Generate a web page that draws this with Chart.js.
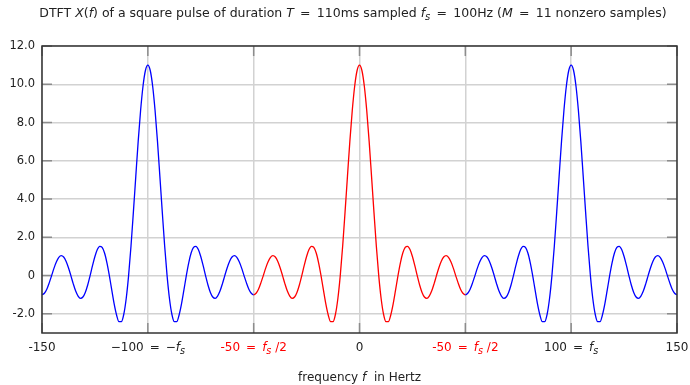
<!DOCTYPE html>
<html>
<head>
<meta charset="utf-8">
<script src="https://cdn.jsdelivr.net/npm/chart.js@4.4.1/dist/chart.umd.min.js"></script>
<style>
  html, body { margin: 0; padding: 0; background: #fff; }
</style>
</head>
<body>
<canvas id="dtft" width="690" height="385"></canvas>
<script>
// frequency samples (Hz) and DTFT amplitude
const freqHz = [
  -150, -148.86, -147.73, -146.59, -145.45, -144.32, -143.18, -142.05, -140.91, -139.77, -138.64, -137.5,
  -136.36, -135.23, -134.09, -132.95, -131.82, -130.68, -129.55, -128.41, -127.27, -126.14, -125, -123.86,
  -122.73, -121.59, -120.45, -119.32, -118.18, -117.05, -115.91, -114.77, -113.64, -112.5, -111.36, -110.23,
  -109.09, -107.95, -106.82, -105.68, -104.55, -103.41, -102.27, -101.14, -100,
  -98.86, -97.73, -96.59, -95.45, -94.32, -93.18, -92.05, -90.91, -89.77, -88.64, -87.5, -86.36, -85.23,
  -84.09, -82.95, -81.82, -80.68, -79.55, -78.41, -77.27, -76.14, -75, -73.86, -72.73, -71.59, -70.45,
  -69.32, -68.18, -67.05, -65.91, -64.77, -63.64, -62.5, -61.36, -60.23, -59.09, -57.95, -56.82, -55.68,
  -54.55, -53.41, -52.27, -51.14, -50,
  -48.86, -47.73, -46.59, -45.45, -44.32, -43.18, -42.05, -40.91, -39.77, -38.64, -37.5, -36.36, -35.23,
  -34.09, -32.95, -31.82, -30.68, -29.55, -28.41, -27.27, -26.14, -25, -23.86, -22.73, -21.59, -20.45,
  -19.32, -18.18, -17.05, -15.91, -14.77, -13.64, -12.5, -11.36, -10.23, -9.09, -7.95, -6.82, -5.68,
  -4.55, -3.41, -2.27, -1.14, 0,
  1.14, 2.27, 3.41, 4.55, 5.68, 6.82, 7.95, 9.09, 10.23, 11.36, 12.5, 13.64, 14.77, 15.91, 17.05, 18.18,
  19.32, 20.45, 21.59, 22.73, 23.86, 25, 26.14, 27.27, 28.41, 29.55, 30.68, 31.82, 32.95, 34.09, 35.23,
  36.36, 37.5, 38.64, 39.77, 40.91, 42.05, 43.18, 44.32, 45.45, 46.59, 47.73, 48.86, 50,
  51.14, 52.27, 53.41, 54.55, 55.68, 56.82, 57.95, 59.09, 60.23, 61.36, 62.5, 63.64, 64.77, 65.91, 67.05,
  68.18, 69.32, 70.45, 71.59, 72.73, 73.86, 75, 76.14, 77.27, 78.41, 79.55, 80.68, 81.82, 82.95, 84.09,
  85.23, 86.36, 87.5, 88.64, 89.77, 90.91, 92.05, 93.18, 94.32, 95.45, 96.59, 97.73, 98.86, 100,
  101.14, 102.27, 103.41, 104.55, 105.68, 106.82, 107.95, 109.09, 110.23, 111.36, 112.5, 113.64, 114.77,
  115.91, 117.05, 118.18, 119.32, 120.45, 121.59, 122.73, 123.86, 125, 126.14, 127.27, 128.41, 129.55,
  130.68, 131.82, 132.95, 134.09, 135.23, 136.36, 137.5, 138.64, 139.77, 140.91, 142.05, 143.18, 144.32,
  145.45, 146.59, 147.73, 148.86, 150
];
const amplitude = [
  // -150 .. -100
  -1.00, -0.92, -0.71, -0.38, 0, 0.39, 0.72, 0.95, 1.04, 0.97, 0.75, 0.41, 0, -0.43, -0.81, -1.07, -1.19,
  -1.12, -0.88, -0.49, 0, 0.52, 1.00, 1.36, 1.53, 1.47, 1.18, 0.67, 0, -0.75, -1.48, -2.06, -2.41, -2.41,
  -2.02, -1.21, 0, 1.55, 3.33, 5.20, 7.03, 8.64, 9.91, 10.72, 11,
  // -100 .. -50
  10.72, 9.91, 8.64, 7.03, 5.20, 3.33, 1.55, 0, -1.21, -2.02, -2.41, -2.41, -2.06, -1.48, -0.75, 0, 0.67,
  1.18, 1.47, 1.53, 1.36, 1.00, 0.52, 0, -0.49, -0.88, -1.12, -1.19, -1.07, -0.81, -0.43, 0, 0.41, 0.75,
  0.97, 1.04, 0.95, 0.72, 0.39, 0, -0.38, -0.71, -0.92, -1.00,
  // -50 .. 0
  -0.92, -0.71, -0.38, 0, 0.39, 0.72, 0.95, 1.04, 0.97, 0.75, 0.41, 0, -0.43, -0.81, -1.07, -1.19, -1.12,
  -0.88, -0.49, 0, 0.52, 1.00, 1.36, 1.53, 1.47, 1.18, 0.67, 0, -0.75, -1.48, -2.06, -2.41, -2.41, -2.02,
  -1.21, 0, 1.55, 3.33, 5.20, 7.03, 8.64, 9.91, 10.72, 11,
  // 0 .. 50
  10.72, 9.91, 8.64, 7.03, 5.20, 3.33, 1.55, 0, -1.21, -2.02, -2.41, -2.41, -2.06, -1.48, -0.75, 0, 0.67,
  1.18, 1.47, 1.53, 1.36, 1.00, 0.52, 0, -0.49, -0.88, -1.12, -1.19, -1.07, -0.81, -0.43, 0, 0.41, 0.75,
  0.97, 1.04, 0.95, 0.72, 0.39, 0, -0.38, -0.71, -0.92, -1.00,
  // 50 .. 100
  -0.92, -0.71, -0.38, 0, 0.39, 0.72, 0.95, 1.04, 0.97, 0.75, 0.41, 0, -0.43, -0.81, -1.07, -1.19, -1.12,
  -0.88, -0.49, 0, 0.52, 1.00, 1.36, 1.53, 1.47, 1.18, 0.67, 0, -0.75, -1.48, -2.06, -2.41, -2.41, -2.02,
  -1.21, 0, 1.55, 3.33, 5.20, 7.03, 8.64, 9.91, 10.72, 11,
  // 100 .. 150
  10.72, 9.91, 8.64, 7.03, 5.20, 3.33, 1.55, 0, -1.21, -2.02, -2.41, -2.41, -2.06, -1.48, -0.75, 0, 0.67,
  1.18, 1.47, 1.53, 1.36, 1.00, 0.52, 0, -0.49, -0.88, -1.12, -1.19, -1.07, -0.81, -0.43, 0, 0.41, 0.75,
  0.97, 1.04, 0.95, 0.72, 0.39, 0, -0.38, -0.71, -0.92, -1.00
];

const xTicks = [-150, -100, -50, 0, 50, 100, 150];
const xTickLabels = ['-150', '\u2212100 = \u2212$f_s$', '-50 = $f_s$ /2', '0', '-50 = $f_s$ /2', '100 = $f_s$', '150'];
const yTicks = [-2, 0, 2, 4, 6, 8, 10, 12];
const yTickLabels = ['-2.0', '0', '2.0', '4.0', '6.0', '8.0', '10.0', '12.0'];

const chartTitle = 'DTFT $X(f)$ of a square pulse of duration $T$ = 110ms sampled $f_s$ = 100Hz ($M$ = 11 nonzero samples)';
const xAxisTitle = 'frequency $f$  in Hertz';

const TEXT_FONT = '"DejaVu Sans"';

// split "$...$" math into italic / subscript runs, widen the spaces round "="
function parseRich(str) {
  const segs = [];
  let math = false;
  str = str.replace(/ = /g, '\u2002=\u2002');
  for (let i = 0; i < str.length; i++) {
    let ch = str[i];
    if (ch === '$') { math = !math; continue; }
    let sub = false;
    if (math && ch === '_') { sub = true; ch = str[++i]; }
    const italic = math && /[A-Za-z]/.test(ch);
    const last = segs[segs.length - 1];
    if (last && last.italic === italic && last.sub === sub) last.text += ch;
    else segs.push({ text: ch, italic, sub });
  }
  return segs;
}

function drawRich(ctx, str, cx, cy, size, color) {
  const segs = parseRich(str);
  const fontFor = s => (s.italic ? 'italic ' : '') + (s.sub ? size * 0.8 : size) + 'px ' + TEXT_FONT;
  let total = 0;
  segs.forEach(s => { ctx.font = fontFor(s); s.w = ctx.measureText(s.text).width; total += s.w; });
  let x = cx - total / 2;
  ctx.fillStyle = color;
  ctx.textAlign = 'left';
  ctx.textBaseline = 'middle';
  segs.forEach(s => {
    ctx.font = fontFor(s);
    ctx.fillText(s.text, x, cy + (s.sub ? size * 0.25 : 0));
    x += s.w;
  });
}

const innerTicks = {
  id: 'innerTicks',
  beforeDatasetsDraw(chart) {
    const { ctx, chartArea: a, scales: { x, y } } = chart;
    ctx.save();
    ctx.strokeStyle = '#8c8c8c';
    ctx.lineWidth = 1.5;
    ctx.beginPath();
    xTicks.forEach(v => {
      const px = x.getPixelForValue(v);
      ctx.moveTo(px, a.top); ctx.lineTo(px, a.top + 10);
      ctx.moveTo(px, a.bottom); ctx.lineTo(px, a.bottom - 10);
    });
    yTicks.forEach(v => {
      const py = y.getPixelForValue(v);
      ctx.moveTo(a.left, py); ctx.lineTo(a.left + 10, py);
      ctx.moveTo(a.right, py); ctx.lineTo(a.right - 10, py);
    });
    ctx.stroke();
    ctx.restore();
  },
  afterDraw(chart) {
    const { ctx, chartArea: a, scales: { x, y } } = chart;
    ctx.save();
    ctx.strokeStyle = '#333';
    ctx.lineWidth = 1.5;
    ctx.strokeRect(a.left, a.top, a.width, a.height);

    ctx.font = '11.5px "DejaVu Sans"';
    ctx.fillStyle = '#222';
    ctx.textAlign = 'right';
    ctx.textBaseline = 'middle';
    yTicks.forEach((v, i) => ctx.fillText(yTickLabels[i], a.left - 7, y.getPixelForValue(v)));

    xTicks.forEach((v, i) => {
      const col = Math.abs(v) === 50 ? '#ff0000' : '#222';
      drawRich(ctx, xTickLabels[i], x.getPixelForValue(v), a.bottom + 15, 12, col);
    });

    drawRich(ctx, xAxisTitle, (a.left + a.right) / 2, 378, 12, '#222');
    drawRich(ctx, chartTitle, 353, 14, 12.5, '#222');
    ctx.restore();
  }
};

new Chart(document.getElementById('dtft'), {
  type: 'line',
  data: {
    datasets: [{
      data: freqHz.map((f, i) => ({ x: f, y: amplitude[i] })),
      borderColor: '#0000ff',
      borderWidth: 1.3,
      pointRadius: 0,
      fill: false,
      cubicInterpolationMode: 'monotone',
      segment: {
        borderColor: c => (c.p0.parsed.x >= -50 && c.p1.parsed.x <= 50) ? '#ff0000' : '#0000ff'
      }
    }]
  },
  options: {
    responsive: false,
    animation: false,
    layout: { padding: { left: 42, right: 13, top: 46, bottom: 52 } },
    plugins: { legend: { display: false }, tooltip: { enabled: false }, title: { display: false } },
    scales: {
      x: {
        type: 'linear',
        min: -150,
        max: 150,
        afterBuildTicks: s => { s.ticks = xTicks.map(v => ({ value: v })); },
        ticks: { display: false },
        grid: { color: '#d2d2d2', lineWidth: 1.5, drawTicks: false },
        border: { display: false }
      },
      y: {
        min: -3,
        max: 12,
        afterBuildTicks: s => { s.ticks = yTicks.map(v => ({ value: v })); },
        ticks: { display: false },
        grid: { color: '#d2d2d2', lineWidth: 1.5, drawTicks: false },
        border: { display: false }
      }
    }
  },
  plugins: [innerTicks]
});
</script>
</body>
</html>
